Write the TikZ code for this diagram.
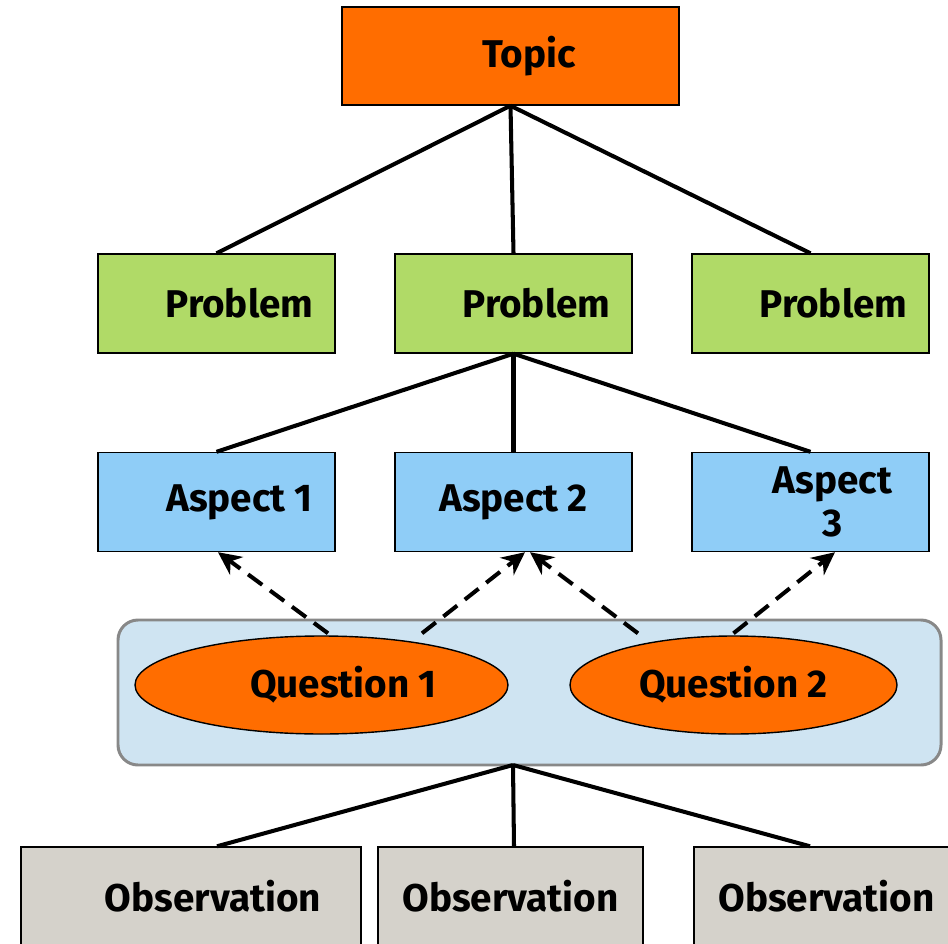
\documentclass[tikz,border=0pt]{standalone}
\usepackage{fontspec}
\setmainfont{Fira Sans}
\usetikzlibrary{arrows.meta,positioning,shapes.geometric}
\definecolor{TopicOrange}{RGB}{255,109,0}
\definecolor{ProblemGreen}{RGB}{176,218,103}
\definecolor{AspectBlue}{RGB}{143,205,247}
\definecolor{ObsGray}{RGB}{213,210,203}
\definecolor{GroupBlue}{RGB}{207,228,242}
\definecolor{GroupEdge}{RGB}{136,136,136}
\tikzset{
  basebox/.style={draw=black,line width=0.8pt,rectangle,inner sep=2pt,
    font=\fontsize{22}{24.5}\selectfont\bfseries,align=center},
  topicbox/.style={basebox,fill=TopicOrange,minimum width=6.74cm,minimum height=1.96cm},
  problembox/.style={basebox,fill=ProblemGreen,minimum width=4.74cm,minimum height=1.98cm},
  aspectbox/.style={basebox,fill=AspectBlue,minimum width=4.74cm,minimum height=1.98cm},
  obsbox/.style={basebox,fill=ObsGray,minimum height=1.96cm},
  questionshape/.style={draw=black,line width=0.8pt,ellipse,fill=TopicOrange,inner sep=1pt,
    font=\fontsize{22}{24.5}\selectfont\bfseries,minimum height=1.96cm},
  groupbox/.style={draw=GroupEdge,line width=1.7pt,fill=GroupBlue,rounded corners=0.4cm,
    minimum width=16.46cm,minimum height=2.9cm},
  textshift/.style={execute at begin node=\hspace*{#1}},
  treeline/.style={line width=2.3pt,draw=black},
  dasharrow/.style={line width=2.3pt,dash pattern=on 10pt off 5.5pt,
    -{Stealth[length=4.6mm,width=4.4mm,inset=1.5mm]}},
}
\begin{document}
\begin{tikzpicture}
  \clip (0,0) rectangle (18.96,-18.88);
  % top level
  \node[topicbox,textshift=0.74cm] (topic) at (10.21,-1.12) {Topic};
  \node[problembox,textshift=0.92cm] (prob1) at (4.33,-6.07) {Problem};
  \node[problembox,textshift=0.92cm] (prob2) at (10.27,-6.07) {Problem};
  \node[problembox,textshift=0.92cm] (prob3) at (16.21,-6.07) {Problem};
  \draw[treeline] (topic.south) -- (prob1.north);
  \draw[treeline] (topic.south) -- (prob2.north);
  \draw[treeline] (topic.south) -- (prob3.north);
  % aspects
  \node[aspectbox,textshift=0.92cm] (asp1) at (4.33,-10.04) {Aspect 1};
  \node[aspectbox] (asp2) at (10.27,-10.04) {Aspect 2};
  \node[aspectbox] (asp3) at (16.21,-10.04) {\hspace*{0.88cm}Aspect\\\hspace*{0.88cm}3};
  \draw[treeline] (prob2.south) -- (asp1.north);
  \draw[treeline] (prob2.south) -- (asp2.north);
  \draw[treeline] (prob2.south) -- (asp3.north);
  % questions
  \node[groupbox] (qgroup) at (10.59,-13.85) {};
  \node[questionshape,minimum width=7.46cm,textshift=0.88cm] (q1) at (6.43,-13.7) {Question 1};
  \node[questionshape,minimum width=6.54cm] (q2) at (14.67,-13.7) {Question 2};
  \draw[dasharrow] ([xshift=0.13cm,yshift=0.04cm]q1.north) -- ([xshift=0.03cm]asp1.south);
  \draw[dasharrow] ([xshift=2.01cm,yshift=0.04cm]q1.north) -- ([xshift=0.23cm]asp2.south);
  \draw[dasharrow] ([xshift=-1.91cm,yshift=0.04cm]q2.north) -- ([xshift=0.33cm]asp2.south);
  \draw[dasharrow] ([yshift=0.04cm]q2.north) -- ([xshift=0.49cm]asp3.south);
  % observations
  \coordinate (hub) at (10.26,-15.3);
  \node[obsbox,minimum width=6.8cm,textshift=0.88cm] (obs1) at (3.82,-17.92) {Observation};
  \node[obsbox,minimum width=5.3cm] (obs2) at (10.21,-17.92) {Observation};
  \node[obsbox,minimum width=5.3cm] (obs3) at (16.53,-17.92) {Observation};
  \draw[treeline] (hub) -- ([xshift=0.52cm]obs1.north);
  \draw[treeline] (hub) -- ([xshift=0.07cm]obs2.north);
  \draw[treeline] (hub) -- ([xshift=-0.33cm]obs3.north);
\end{tikzpicture}
\end{document}
